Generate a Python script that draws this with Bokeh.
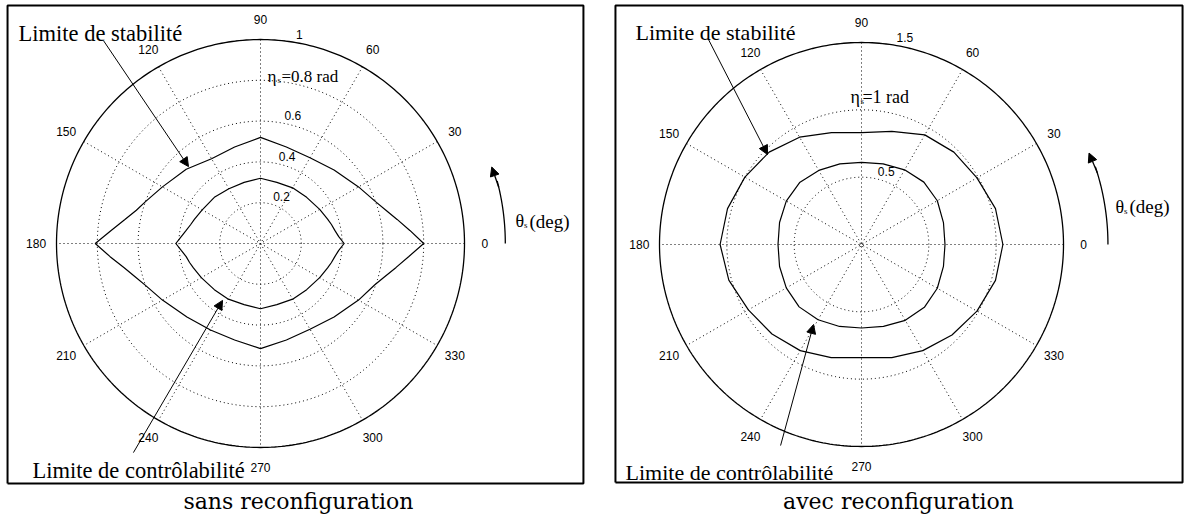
import numpy as np
from bokeh.plotting import figure
from bokeh.layouts import row
from bokeh.models import Range1d, Arrow, NormalHead
from bokeh.embed import file_html
from bokeh.resources import INLINE
from bokeh.core.properties import value

# ---------------- data ----------------
# left panel: sans reconfiguration (eta_s = 0.8 rad)
left_theta = [0, 5, 10, 15, 20, 30, 45, 60, 75, 90, 105, 120, 135, 150, 160, 165, 170, 175, 180,
              185, 190, 195, 200, 210, 225, 240, 255, 270, 285, 300, 315, 330, 340, 345, 350, 355, 360]
left_stability = [0.80, 0.735, 0.68, 0.635, 0.60, 0.555, 0.51, 0.485, 0.49, 0.52,
                  0.49, 0.48, 0.515, 0.555, 0.60, 0.63, 0.675, 0.735, 0.81,
                  0.74, 0.68, 0.635, 0.60, 0.555, 0.51, 0.49, 0.49, 0.515,
                  0.49, 0.485, 0.51, 0.555, 0.595, 0.63, 0.675, 0.73, 0.80]
left_control = [0.41, 0.385, 0.37, 0.36, 0.35, 0.335, 0.32, 0.315, 0.31, 0.32,
                0.31, 0.31, 0.32, 0.33, 0.345, 0.355, 0.37, 0.39, 0.415,
                0.39, 0.37, 0.36, 0.35, 0.335, 0.32, 0.315, 0.31, 0.32,
                0.31, 0.315, 0.32, 0.335, 0.35, 0.36, 0.37, 0.385, 0.41]
left_rticks = [0.2, 0.4, 0.6, 0.8, 1.0]
left_rlabels = ["0.2", "0.4", "0.6", "", "1"]

# right panel: avec reconfiguration (eta_s = 1 rad)
right_theta = [0, 15, 30, 45, 60, 75, 90, 105, 120, 135, 150, 165, 180,
               195, 210, 225, 240, 255, 270, 285, 300, 315, 330, 345, 360]
right_stability = [1.05, 1.03, 0.99, 0.97, 0.94, 0.87, 0.83, 0.86, 0.92, 0.97, 1.00, 1.03, 1.05,
                   1.02, 0.97, 0.94, 0.91, 0.87, 0.84, 0.87, 0.91, 0.95, 0.99, 1.03, 1.05]
right_control = [0.62, 0.63, 0.65, 0.655, 0.64, 0.62, 0.61, 0.62, 0.635, 0.65, 0.645, 0.63, 0.62,
                 0.63, 0.645, 0.655, 0.645, 0.63, 0.62, 0.63, 0.65, 0.66, 0.65, 0.63, 0.62]
right_rticks = [0.5, 1.0, 1.5]
right_rlabels = ["0.5", "", "1.5"]

angle_ticks = [0, 30, 60, 90, 120, 150, 180, 210, 240, 270, 300, 330]
angle_labels = ["0", "30", "60", "90", "120", "150", "180", "210", "240", "270", "300", "330"]

SERIF = value("Liberation Serif")
SANS = value("Liberation Sans")
CAPTION = value("DejaVu Serif")


def pol(theta_deg, r):
    t = np.deg2rad(np.asarray(theta_deg, dtype=float))
    r = np.asarray(r, dtype=float)
    return r * np.cos(t), r * np.sin(t)


def make_panel(W, H, cx, cy, scale, rmax, rticks, rlabels, theta, stab, ctrl, cfg):
    x0, x1 = -cx / scale, (W - cx) / scale
    y0, y1 = -(H - cy) / scale, cy / scale
    p = figure(width=W, height=H, x_range=Range1d(x0, x1), y_range=Range1d(y0, y1),
               output_backend="svg", toolbar_location=None, min_border=0,
               x_axis_location=None, y_axis_location=None, outline_line_color=None,
               background_fill_color="white", border_fill_color="white")
    p.grid.visible = False
    px = 1.0 / scale

    # frame box
    bx0, bx1, by0, by1 = cfg["box"]
    p.line([bx0, bx1, bx1, bx0, bx0], [by0, by0, by1, by1, by0], line_color="black", line_width=2)

    # grid circles
    full = np.linspace(0, 360, 361)
    for rt in rticks[:-1]:
        gx, gy = pol(full, np.full_like(full, rt))
        p.line(gx, gy, line_color="black", line_width=1, line_dash="1 3")
    # spokes
    for a in angle_ticks[:6]:
        sx, sy = pol([a, a + 180], [rmax, rmax])
        p.line(sx, sy, line_color="black", line_width=1, line_dash="1 3")
    # outer circle
    ox, oy = pol(full, np.full_like(full, rmax))
    p.line(ox, oy, line_color="black", line_width=1.3)

    # angle labels
    lx, ly = pol(angle_ticks, [1.1 * rmax] * len(angle_ticks))
    p.text(lx, ly, text=angle_labels, text_font=SANS, text_font_size="12px",
           text_align="center", text_baseline="middle", text_color="black")
    # radial labels
    rx, ry = pol([82] * len(rticks), rticks)
    p.text(rx + 7 * px, ry + 2 * px, text=rlabels, text_font=SANS, text_font_size="12px",
           text_align="left", text_baseline="bottom", text_color="black")

    # data curves
    sx, sy = pol(theta, stab)
    p.line(sx, sy, line_color="black", line_width=1.2)
    cx_, cy_ = pol(theta, ctrl)
    p.line(cx_, cy_, line_color="black", line_width=1.2)

    # annotations
    fs = cfg["fs"]
    p.text([cfg["stab_txt"][0]], [cfg["stab_txt"][1]], text=["Limite de stabilité"], text_font=SERIF,
           text_font_size=fs, text_align="left", text_baseline="alphabetic")
    p.text([cfg["ctrl_txt"][0]], [cfg["ctrl_txt"][1]], text=["Limite de contrôlabilité"], text_font=SERIF,
           text_font_size=fs, text_align="left", text_baseline="alphabetic")
    for (xs, ys, xe, ye) in (cfg["stab_arrow"], cfg["ctrl_arrow"]):
        p.add_layout(Arrow(end=NormalHead(size=9, fill_color="black", line_color="black", line_width=1),
                           x_start=xs, y_start=ys, x_end=xe, y_end=ye,
                           line_color="black", line_width=1))

    # eta label
    ex, ey = cfg["eta"]
    p.text([ex], [ey], text=["η"], text_font=SERIF, text_font_size=cfg["eta_fs"], text_baseline="alphabetic")
    p.text([ex + cfg["eta_s_dx"] * px], [ey - 4 * px], text=["s"], text_font=SERIF, text_font_size="9px",
           text_baseline="alphabetic")
    p.text([ex + cfg["eta_rest_dx"] * px], [ey], text=[cfg["eta_rest"]], text_font=SERIF,
           text_font_size=cfg["eta_fs"], text_baseline="alphabetic")

    # theta direction arrow
    R, a_end = cfg["arc"]
    arc_a = np.linspace(0, a_end - 3.5, 40)
    ax_, ay_ = pol(arc_a, np.full_like(arc_a, R))
    p.line(ax_, ay_, line_color="black", line_width=1.3)
    (hx0,), (hy0,) = pol([a_end - 5], [R])
    (hx1,), (hy1,) = pol([a_end], [R * 0.995])
    p.add_layout(Arrow(end=NormalHead(size=9, fill_color="black", line_color="black", line_width=1),
                       x_start=hx0, y_start=hy0, x_end=hx1, y_end=hy1,
                       line_color="black", line_width=1.3))
    tx, ty = cfg["theta"]
    p.text([tx], [ty], text=["θ"], text_font=SERIF, text_font_size="18px", text_baseline="alphabetic")
    p.text([tx + 8.5 * px], [ty - 4 * px], text=["s"], text_font=SERIF, text_font_size="9px",
           text_baseline="alphabetic")
    p.text([tx + 14 * px], [ty], text=["(deg)"], text_font=SERIF, text_font_size="19px",
           text_baseline="alphabetic")

    # caption
    p.text([cfg["caption_xy"][0]], [cfg["caption_xy"][1]], text=[cfg["caption"]], text_font=CAPTION,
           text_font_size="22px", text_align="center", text_baseline="alphabetic")
    return p


left_cfg = dict(
    box=(-1.240, 1.583, -1.176, 1.167), fs="22.5px",
    stab_txt=(-1.186, 1.029), ctrl_txt=(-1.118, -1.113),
    stab_arrow=(-0.770, 0.995, -0.353, 0.377), ctrl_arrow=(-0.623, -1.025, -0.186, -0.279),
    eta=(0.034, 0.819), eta_fs="17px", eta_s_dx=10, eta_rest_dx=14, eta_rest="=0.8 rad",
    arc=(1.20, 18.3), theta=(1.25, 0.108),
    caption="sans reconfiguration", caption_xy=(0.186, -1.265),
)
right_cfg = dict(
    box=(-1.827, 2.384, -1.767, 1.775), fs="22px",
    stab_txt=(-1.678, 1.574), ctrl_txt=(-1.752, -1.693),
    stab_arrow=(-1.136, 1.522, -0.698, 0.668), ctrl_arrow=(-0.601, -1.493, -0.356, -0.594),
    eta=(-0.082, 1.092), eta_fs="18px", eta_s_dx=10, eta_rest_dx=12, eta_rest="=1 rad",
    arc=(1.83, 21.9), theta=(1.886, 0.282),
    caption="avec reconfiguration", caption_xy=(0.275, -1.908),
)

p1 = make_panel(592, 517, 260, 243, 204.0, 1.0, left_rticks, left_rlabels,
                left_theta, left_stability, left_control, left_cfg)
p2 = make_panel(592, 517, 269, 244, 134.67, 1.5, right_rticks, right_rlabels,
                right_theta, right_stability, right_control, right_cfg)

layout = row(p1, p2)
open("out.html", "w").write(file_html(layout, INLINE))
